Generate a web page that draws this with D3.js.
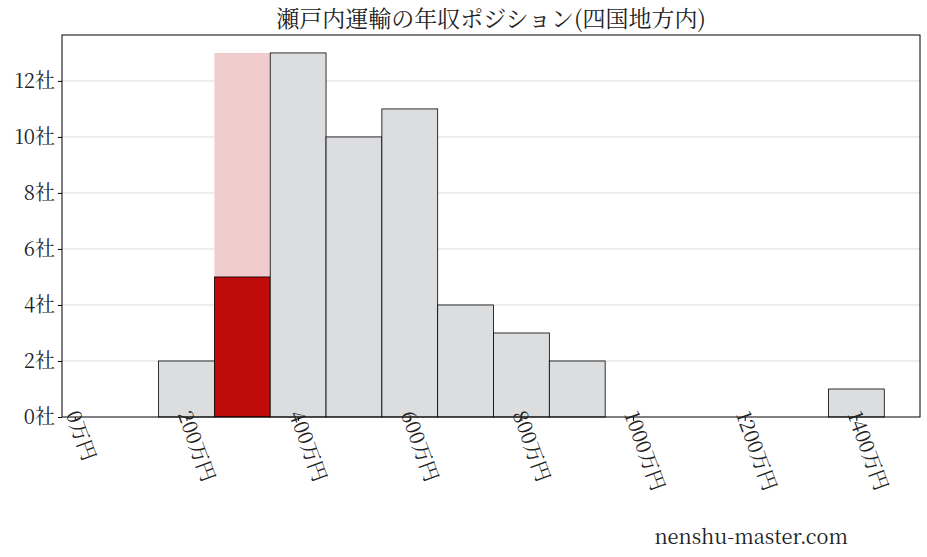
<!DOCTYPE html><html><head><meta charset="utf-8"><script src="https://d3js.org/d3.v7.min.js"></script>
<style>body{margin:0;background:#fff}text{font-family:"Noto Serif CJK JP","Noto Sans CJK JP",serif}</style></head><body><svg id="c" width="927" height="557"></svg><script>
const binStarts=[150,250,350,450,550,650,750,850,1350];
const counts=[2,13,13,10,11,4,3,2,1];
const highlightStart=250, highlightValue=5;
const yTicks=[0,2,4,6,8,10,12];
const xTicks=[0,200,400,600,800,1000,1200,1400];
const svg=d3.select("#c");
const L=62,R=920,T=35,B=417;
const x=d3.scaleLinear().domain([-23,1514]).range([L,R]);
const y=d3.scaleLinear().domain([0,13.64]).range([B,T]);
const g=svg.append("g");
g.selectAll(".gl").data(yTicks.slice(1)).join("line").attr("x1",L).attr("x2",R).attr("y1",d=>y(d)).attr("y2",d=>y(d)).attr("stroke","#ddd");
binStarts.forEach((s,i)=>{
 const hl=s===highlightStart;
 g.append("rect").attr("x",x(s)).attr("width",x(s+100)-x(s)).attr("y",y(counts[i])).attr("height",B-y(counts[i]))
  .attr("fill",hl?"#f0cccc":"#dcdddf").attr("stroke",hl?"none":"#000").attr("stroke-width",0.8);
 if(hl) g.append("rect").attr("x",x(s)).attr("width",x(s+100)-x(s)).attr("y",y(highlightValue)).attr("height",B-y(highlightValue)).attr("fill","#c00b0b").attr("stroke","#000").attr("stroke-width",0.8);
});
svg.append("rect").attr("x",L).attr("y",T).attr("width",R-L).attr("height",B-T).attr("fill","none").attr("stroke","#000");
const ya=svg.append("g").attr("transform",`translate(${L},0)`).call(d3.axisLeft(y).tickValues(yTicks).tickFormat(d=>d+"社").tickSize(4));
ya.select(".domain").remove();
ya.selectAll("text").attr("font-size",20).attr("fill","#222");
const xa=svg.append("g").attr("transform",`translate(0,${B})`).call(d3.axisBottom(x).tickValues(xTicks).tickFormat(d=>d+"万円").tickSize(4));
xa.select(".domain").remove();
xa.selectAll("text").attr("font-size",20).attr("fill","#222").attr("text-anchor","start").attr("dy",0).attr("y",8).attr("x",-6).attr("transform","rotate(70)");
svg.append("text").attr("x",491).attr("y",27).attr("text-anchor","middle").attr("font-size",23).attr("fill","#222").text("瀬戸内運輸の年収ポジション(四国地方内)");
svg.append("text").attr("x",848).attr("y",544).attr("text-anchor","end").attr("font-size",20).attr("fill","#222").text("nenshu-master.com");
</script></body></html>
